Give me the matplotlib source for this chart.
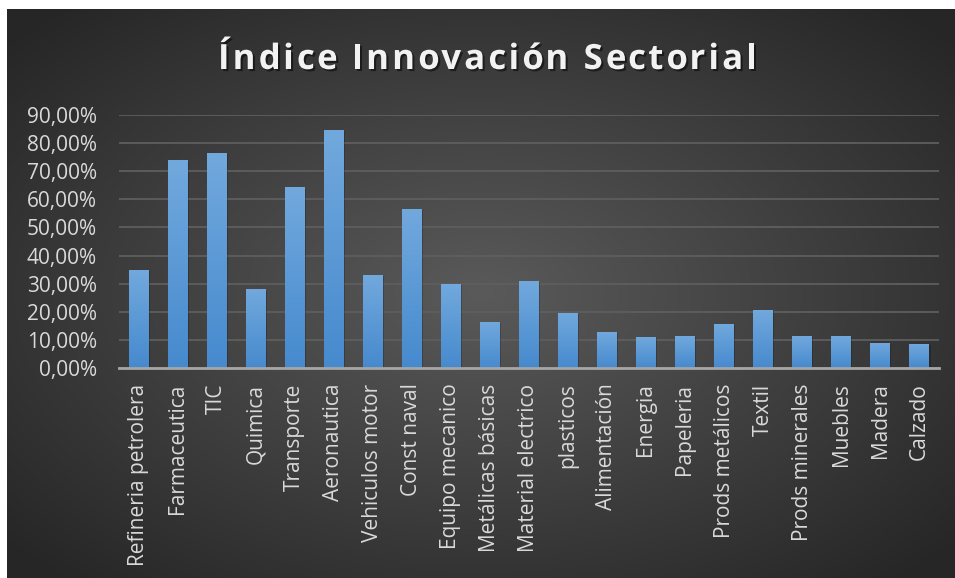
import numpy as np
import matplotlib.pyplot as plt
import matplotlib.patheffects as pe
from matplotlib.colors import LinearSegmentedColormap
from matplotlib.font_manager import FontProperties

categories = ["Refineria petrolera", "Farmaceutica", "TIC", "Quimica", "Transporte",
              "Aeronautica", "Vehiculos motor", "Const naval", "Equipo mecanico",
              "Metálicas básicas", "Material electrico", "plasticos", "Alimentación",
              "Energia", "Papeleria", "Prods metálicos", "Textil", "Prods minerales",
              "Muebles", "Madera", "Calzado"]
values = [0.349, 0.739, 0.764, 0.281, 0.643, 0.846, 0.331, 0.565, 0.299,
          0.164, 0.310, 0.196, 0.129, 0.111, 0.115, 0.157, 0.207, 0.115,
          0.115, 0.090, 0.086]
yticks = np.arange(0, 0.91, 0.1)
ytick_labels = [f"{int(round(t * 100))},00%" for t in yticks]
title = "Índice Innovación Sectorial"

plt.rcParams['font.family'] = ['Open Sans', 'DejaVu Sans']

W, H = 955, 578
fig = plt.figure(figsize=(W / 100, H / 100), dpi=100)
fig.patch.set_facecolor('white')

# fondo con degradado radial
bg = fig.add_axes([7 / W, 0, 1 - 7 / W, 1 - 9 / H], zorder=0)
gx, gy = np.meshgrid(np.linspace(-1, 1, 400), np.linspace(-1, 1, 250))
r = np.clip(np.sqrt(gx ** 2 + gy ** 2) / 1.35, 0, 1)
bg_cmap = LinearSegmentedColormap.from_list('bg', ['#5a5a5a', '#262626'])
bg.imshow(r, cmap=bg_cmap, aspect='auto', extent=[0, 1, 0, 1], vmin=0, vmax=1)
bg.axis('off')

ax = fig.add_axes([119 / W, 1 - 368.3 / H, (938.7 - 119) / W, (368.3 - 114.7) / H], zorder=1)
ax.set_facecolor('none')
x = np.arange(len(categories))
bars = ax.bar(x, values, width=0.51, color='#5b9bd5', zorder=3,
              path_effects=[pe.SimplePatchShadow(offset=(1, -1), alpha=0.2, shadow_rgbFace='black'),
                            pe.Normal()])

# degradado vertical dentro de cada barra
bar_cmap = LinearSegmentedColormap.from_list('bar', ['#468ace', '#72a9dd'])
grad = np.linspace(0, 1, 100).reshape(-1, 1)
for b in bars:
    im = ax.imshow(grad, cmap=bar_cmap, aspect='auto', origin='lower', zorder=4,
                   extent=[b.get_x(), b.get_x() + b.get_width(), 0, b.get_height()])
    im.set_clip_path(b)

ax.set_xlim(-0.5, len(categories) - 0.5)
ax.set_ylim(0, 0.9)
ax.set_yticks(yticks)
ax.set_yticklabels(ytick_labels, fontsize=15, color='#d9d9d9')
ax.set_xticks(x)
ax.set_xticklabels(categories, rotation=90, fontsize=15, color='#d9d9d9')
ax.tick_params(axis='x', length=0, pad=11)
ax.tick_params(axis='y', length=0, pad=16)
ax.grid(axis='y', color='#5e5e5e', linewidth=1.3, zorder=1)
for s in ['top', 'right', 'left']:
    ax.spines[s].set_visible(False)
ax.spines['bottom'].set_color('#a6a6a6')
ax.spines['bottom'].set_linewidth(2)
ax.spines['bottom'].set_zorder(5)

# título con espaciado entre letras
renderer = fig.canvas.get_renderer()
tprop = FontProperties(family=['Open Sans', 'DejaVu Sans'], weight='bold', size=25)
def advance(ch):
    w1 = renderer.get_text_width_height_descent('x' + ch + 'x', tprop, ismath=False)[0]
    w0 = renderer.get_text_width_height_descent('xx', tprop, ismath=False)[0]
    return w1 - w0
adv = [advance(c) for c in title]
target = 757 - 218
extra = (target - sum(adv)) / (len(title) - 1)
xpos = 218
shadow = [pe.withSimplePatchShadow(offset=(1.5, -1.5), alpha=0.5, shadow_rgbFace='black')]
for c, a in zip(title, adv):
    fig.text(xpos / W, 1 - 69 / H, c, ha='left', va='baseline', fontproperties=tprop,
             color='#f2f2f2', path_effects=shadow)
    xpos += a + extra

plt.savefig('out.png', dpi=100)
